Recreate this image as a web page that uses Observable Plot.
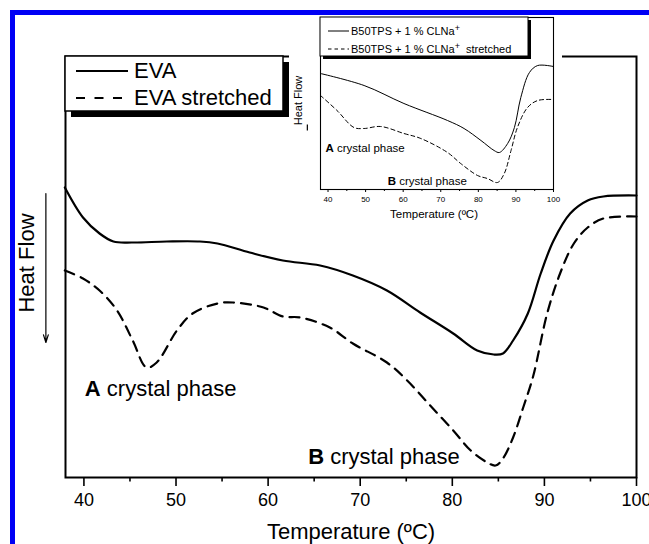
<!DOCTYPE html>
<html>
<head>
<meta charset="utf-8">
<script src="https://cdn.jsdelivr.net/npm/d3@7"></script>
<script src="https://cdn.jsdelivr.net/npm/@observablehq/plot@0.6"></script>
<style>
  body { margin: 0; background: #fff; }
  #wrap { position: relative; width: 649px; height: 544px; overflow: hidden; background: #fff; }
  #wrap > svg, #wrap > figure { position: absolute; margin: 0; }
</style>
</head>
<body>
<div id="wrap"></div>
<script>
const FONT = '"Liberation Sans", Arial, Helvetica, sans-serif';

// ---------- Main chart data (Temperature °C, Heat Flow a.u.) ----------
const evaTemp = [37.93, 39.9, 41.7, 43.2, 45.3, 49.0, 52.6, 54.5, 58.0, 61.6, 65.65, 69.2, 72.9, 76.5, 80.1, 82.7, 84.5, 85.5, 86.6, 88.2, 89.6, 91.0, 92.8, 94.7, 96.4, 100];
const evaHeat = [2.90, 2.60, 2.44, 2.36, 2.35, 2.36, 2.36, 2.34, 2.25, 2.17, 2.12, 2.02, 1.87, 1.65, 1.44, 1.27, 1.23, 1.24, 1.37, 1.64, 2.04, 2.37, 2.64, 2.77, 2.81, 2.82];

const evaStrTemp = [37.93, 39.9, 41.7, 43.6, 45.3, 46.8, 47.9, 50.1, 51.8, 54.5, 56.2, 59.5, 61.6, 63.5, 66.7, 69.2, 72.9, 75.1, 77.6, 80.1, 82.0, 83.8, 84.7, 85.5, 86.6, 87.7, 88.8, 90.3, 91.7, 93.2, 94.7, 96.4, 100];
const evaStrHeat = [2.07, 1.99, 1.87, 1.67, 1.37, 1.10, 1.15, 1.47, 1.64, 1.74, 1.75, 1.70, 1.61, 1.60, 1.50, 1.34, 1.15, 0.97, 0.72, 0.47, 0.27, 0.15, 0.12, 0.19, 0.40, 0.70, 1.02, 1.64, 2.04, 2.34, 2.50, 2.59, 2.61];

// ---------- Inset data ----------
const tpsTemp = [38, 49.6, 60.2, 71.8, 76.2, 80.7, 84.2, 85.6, 87.8, 89.6, 91.3, 93.6, 95.8, 100];
const tpsHeat = [1.16, 1.04, 0.86, 0.69, 0.61, 0.49, 0.39, 0.37, 0.46, 0.62, 0.92, 1.17, 1.24, 1.23];

const tpsStrTemp = [38, 42.4, 46.9, 49.6, 54, 60.2, 64.7, 71.8, 75.3, 79.8, 82.4, 85.1, 86.9, 88.7, 90.4, 93.1, 95.8, 100];
const tpsStrHeat = [0.94, 0.79, 0.62, 0.61, 0.63, 0.56, 0.51, 0.37, 0.26, 0.14, 0.11, 0.07, 0.16, 0.39, 0.62, 0.82, 0.89, 0.90];

// ---------- Ticks & labels ----------
const majorTicks = [40, 50, 60, 70, 80, 90, 100];
const minorTicks = [45, 55, 65, 75, 85, 95];
const xLabel = "Temperature (ºC)";
const yLabel = "Heat Flow";
const mainSeries = ["EVA", "EVA stretched"];
const insetSeries = ["B50TPS + 1 % CLNa", "B50TPS + 1 % CLNa"];

const rows = (xs, ys) => xs.map((x, i) => ({x, y: ys[i]}));
const eva = rows(evaTemp, evaHeat);
const evaStr = rows(evaStrTemp, evaStrHeat);
const tps = rows(tpsTemp, tpsHeat);
const tpsStr = rows(tpsStrTemp, tpsStrHeat);

const wrap = document.getElementById("wrap");

// ---------- Main plot ----------
const main = Plot.plot({
  width: 649, height: 544,
  marginLeft: 65, marginRight: 13, marginTop: 56, marginBottom: 67,
  style: {fontFamily: FONT, background: "transparent", color: "#000", overflow: "visible"},
  x: {domain: [38, 100]},
  y: {domain: [0, 4.21], axis: null},
  marks: [
    Plot.frame({stroke: "#000", strokeWidth: 2}),
    Plot.axisX({ticks: majorTicks, tickSize: 9, tickPadding: 7, fontSize: 18, strokeWidth: 1.6, tickFormat: d3.format("d"), label: null}),
    Plot.axisX({ticks: minorTicks, tickSize: 4.5, strokeWidth: 1.6, tickFormat: () => "", label: null}),
    Plot.line(eva, {x: "x", y: "y", curve: "catmull-rom", stroke: "#000", strokeWidth: 2.2}),
    Plot.line(evaStr, {x: "x", y: "y", curve: "catmull-rom", stroke: "#000", strokeWidth: 2.2, strokeDasharray: "10,7"}),
    Plot.text([xLabel], {frameAnchor: "bottom", lineAnchor: "bottom", dy: 61, fontSize: 22}),
    Plot.text([yLabel], {frameAnchor: "left", rotate: -90, textAnchor: "middle", lineAnchor: "middle", dx: -39, dy: -4, fontSize: 22}),
    Plot.arrow([0], {x1: 35.87, y1: 2.84, x2: 35.87, y2: 1.35, stroke: "#000", strokeWidth: 1.2, headLength: 10, headAngle: 35}),
    Plot.text(["A"], {x: 40.1, y: 0.82, textAnchor: "start", lineAnchor: "bottom", fontWeight: "bold", fontSize: 22}),
    Plot.text(["crystal phase"], {x: 40.1, y: 0.82, dx: 22, textAnchor: "start", lineAnchor: "bottom", fontSize: 22}),
    Plot.text(["B"], {x: 64.35, y: 0.14, textAnchor: "start", lineAnchor: "bottom", fontWeight: "bold", fontSize: 22}),
    Plot.text(["crystal phase"], {x: 64.35, y: 0.14, dx: 22, textAnchor: "start", lineAnchor: "bottom", fontSize: 22})
  ]
});
main.style.left = "0px"; main.style.top = "0px";
wrap.appendChild(main);

// ---------- Inset plot ----------
const inset = Plot.plot({
  width: 273, height: 207,
  marginLeft: 31, marginRight: 9, marginTop: 2, marginBottom: 33,
  style: {fontFamily: FONT, background: "#fff", color: "#000", overflow: "visible"},
  x: {domain: [38, 100]},
  y: {domain: [0, 1.72], axis: null},
  marks: [
    Plot.frame({stroke: "#000", strokeWidth: 1.1}),
    Plot.axisX({ticks: majorTicks, tickSize: 3, tickPadding: 4, fontSize: 8, tickFormat: d3.format("d"), label: null}),
    Plot.axisX({ticks: minorTicks, tickSize: 2, tickFormat: () => "", label: null}),
    Plot.line(tps, {x: "x", y: "y", curve: "catmull-rom", stroke: "#000", strokeWidth: 1}),
    Plot.line(tpsStr, {x: "x", y: "y", curve: "catmull-rom", stroke: "#000", strokeWidth: 1, strokeDasharray: "4,3"}),
    Plot.text([xLabel], {frameAnchor: "bottom", lineAnchor: "bottom", dy: 28, dx: -3, fontSize: 11.5}),
    Plot.text([yLabel], {frameAnchor: "left", rotate: -90, textAnchor: "middle", lineAnchor: "middle", dx: -22, dy: -3, fontSize: 11}),
    Plot.link([0], {x1: 34.5, y1: 0.65, x2: 34.5, y2: 0.59, stroke: "#000", strokeWidth: 1.2}),
    Plot.text(["A"], {x: 39.33, y: 0.38, textAnchor: "start", lineAnchor: "bottom", fontWeight: "bold", fontSize: 11.5}),
    Plot.text(["crystal phase"], {x: 39.33, y: 0.38, dx: 11.5, textAnchor: "start", lineAnchor: "bottom", fontSize: 11.5}),
    Plot.text(["B"], {x: 55.87, y: 0.05, textAnchor: "start", lineAnchor: "bottom", fontWeight: "bold", fontSize: 11.5}),
    Plot.text(["crystal phase"], {x: 55.87, y: 0.05, dx: 11.5, textAnchor: "start", lineAnchor: "bottom", fontSize: 11.5})
  ]
});
inset.style.left = "289px"; inset.style.top = "15px";
wrap.appendChild(inset);

// ---------- Overlay: legends and blue frame ----------
const ov = d3.create("svg").attr("width", 649).attr("height", 544)
  .style("left", "0px").style("top", "0px").style("font-family", FONT);

// main legend
ov.append("rect").attr("x", 71).attr("y", 62).attr("width", 218).attr("height", 55).attr("fill", "#000");
ov.append("rect").attr("x", 65).attr("y", 56).attr("width", 218).attr("height", 55)
  .attr("fill", "#fff").attr("stroke", "#000").attr("stroke-width", 1.5);
ov.append("line").attr("x1", 76).attr("x2", 128).attr("y1", 71).attr("y2", 71).attr("stroke", "#000").attr("stroke-width", 2);
ov.append("line").attr("x1", 76).attr("x2", 128).attr("y1", 98).attr("y2", 98).attr("stroke", "#000").attr("stroke-width", 2).attr("stroke-dasharray", "9,9.5");
ov.append("text").attr("x", 134).attr("y", 78).attr("font-size", 22).text(mainSeries[0]);
ov.append("text").attr("x", 134).attr("y", 105).attr("font-size", 22).text(mainSeries[1]);

// inset legend
ov.append("rect").attr("x", 323).attr("y", 20).attr("width", 208).attr("height", 39).attr("fill", "#000");
ov.append("rect").attr("x", 320).attr("y", 17).attr("width", 208).attr("height", 39)
  .attr("fill", "#fff").attr("stroke", "#000").attr("stroke-width", 1);
ov.append("line").attr("x1", 328).attr("x2", 349).attr("y1", 31).attr("y2", 31).attr("stroke", "#000").attr("stroke-width", 1);
ov.append("line").attr("x1", 328).attr("x2", 349).attr("y1", 49).attr("y2", 49).attr("stroke", "#000").attr("stroke-width", 1).attr("stroke-dasharray", "3.5,3");
const t1 = ov.append("text").attr("x", 351).attr("y", 35).attr("font-size", 11).style("white-space", "pre");
t1.append("tspan").text(insetSeries[0]);
t1.append("tspan").attr("dy", -4).attr("font-size", 9).text("+");
const t2 = ov.append("text").attr("x", 351).attr("y", 53).attr("font-size", 11).style("white-space", "pre");
t2.append("tspan").text(insetSeries[1]);
t2.append("tspan").attr("dy", -4).attr("font-size", 9).text("+");
t2.append("tspan").attr("dy", 4).text("  stretched");

// blue border (top and left)
ov.append("rect").attr("x", 10).attr("y", 10).attr("width", 639).attr("height", 5).attr("fill", "#0000f5");
ov.append("rect").attr("x", 10).attr("y", 10).attr("width", 5).attr("height", 534).attr("fill", "#0000f5");

wrap.appendChild(ov.node());
</script>
</body>
</html>
